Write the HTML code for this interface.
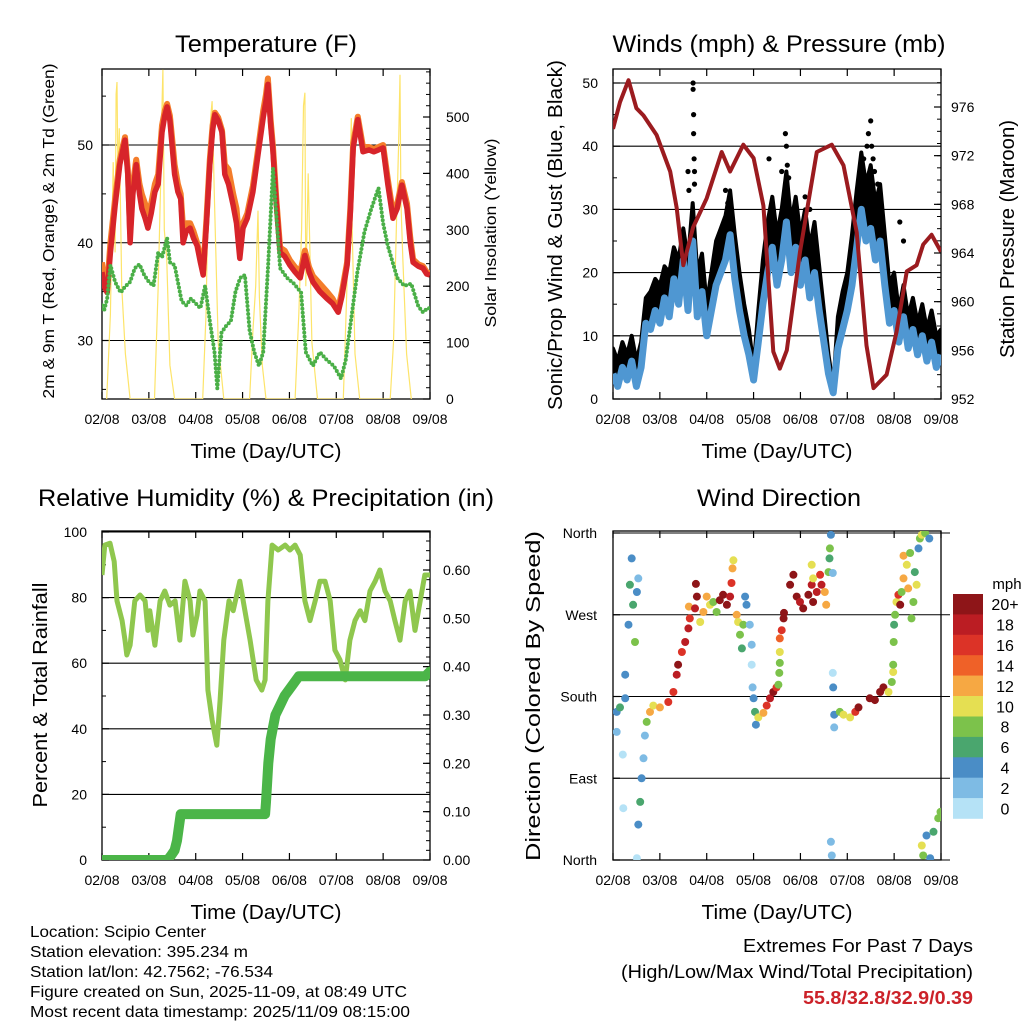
<!DOCTYPE html>
<html><head><meta charset="utf-8">
<style>
html,body{margin:0;padding:0;background:#fff;}
svg{display:block;font-family:"Liberation Sans",sans-serif;}
</style></head>
<body>
<svg id="chart" width="1024" height="1024" viewBox="0 0 1024 1024" xmlns="http://www.w3.org/2000/svg">
<defs>
<clipPath id="c1"><rect x="102" y="69" width="328" height="330"/></clipPath>
<clipPath id="c2"><rect x="613" y="69" width="328" height="330"/></clipPath>
<clipPath id="c3"><rect x="102" y="531" width="328" height="329"/></clipPath>
<clipPath id="c4"><rect x="613" y="531" width="328" height="329"/></clipPath>
</defs>
<text x="266" y="52" font-size="24" text-anchor="middle" textLength="182" lengthAdjust="spacingAndGlyphs">Temperature (F)</text>
<text x="779" y="52" font-size="24" text-anchor="middle" textLength="333" lengthAdjust="spacingAndGlyphs">Winds (mph) &amp; Pressure (mb)</text>
<text x="266" y="506" font-size="24" text-anchor="middle" textLength="456" lengthAdjust="spacingAndGlyphs">Relative Humidity (%) &amp; Precipitation (in)</text>
<text x="779" y="506" font-size="24" text-anchor="middle" textLength="164" lengthAdjust="spacingAndGlyphs">Wind Direction</text>

<text x="266" y="458" font-size="20" text-anchor="middle" textLength="151" lengthAdjust="spacingAndGlyphs">Time (Day/UTC)</text>
<text x="777" y="458" font-size="20" text-anchor="middle" textLength="151" lengthAdjust="spacingAndGlyphs">Time (Day/UTC)</text>
<text x="266" y="919" font-size="20" text-anchor="middle" textLength="151" lengthAdjust="spacingAndGlyphs">Time (Day/UTC)</text>
<text x="777" y="919" font-size="20" text-anchor="middle" textLength="151" lengthAdjust="spacingAndGlyphs">Time (Day/UTC)</text>

<text transform="translate(54,231) rotate(-90)" font-size="16" text-anchor="middle" textLength="335" lengthAdjust="spacingAndGlyphs">2m &amp; 9m T (Red, Orange) &amp; 2m Td (Green)</text>
<text transform="translate(496,233) rotate(-90)" font-size="16" text-anchor="middle" textLength="189" lengthAdjust="spacingAndGlyphs">Solar Insolation (Yellow)</text>
<text transform="translate(562,235) rotate(-90)" font-size="20" text-anchor="middle" textLength="350" lengthAdjust="spacingAndGlyphs">Sonic/Prop Wind &amp; Gust (Blue, Black)</text>
<text transform="translate(1014,239) rotate(-90)" font-size="20" text-anchor="middle" textLength="238" lengthAdjust="spacingAndGlyphs">Station Pressure (Maroon)</text>
<text transform="translate(47,695) rotate(-90)" font-size="20" text-anchor="middle" textLength="225" lengthAdjust="spacingAndGlyphs">Percent &amp; Total Rainfall</text>
<text transform="translate(540,696) rotate(-90)" font-size="20" text-anchor="middle" textLength="330" lengthAdjust="spacingAndGlyphs">Direction (Colored By Speed)</text>

<g font-size="16">
<text x="30" y="937" textLength="176" lengthAdjust="spacingAndGlyphs">Location: Scipio Center</text>
<text x="30" y="957" textLength="218" lengthAdjust="spacingAndGlyphs">Station elevation: 395.234 m</text>
<text x="30" y="977" textLength="243" lengthAdjust="spacingAndGlyphs">Station lat/lon: 42.7562; -76.534</text>
<text x="30" y="997" textLength="377" lengthAdjust="spacingAndGlyphs">Figure created on Sun, 2025-11-09, at 08:49 UTC</text>
<text x="30" y="1017" textLength="380" lengthAdjust="spacingAndGlyphs">Most recent data timestamp: 2025/11/09 08:15:00</text>
</g>
<g font-size="18" text-anchor="end">
<text x="973" y="952" textLength="230" lengthAdjust="spacingAndGlyphs">Extremes For Past 7 Days</text>
<text x="973" y="978" textLength="352" lengthAdjust="spacingAndGlyphs">(High/Low/Max Wind/Total Precipitation)</text>
<text x="973" y="1004" font-weight="bold" fill="#cc2229" textLength="170" lengthAdjust="spacingAndGlyphs">55.8/32.8/32.9/0.39</text>
</g>
</svg>
<script>
// ---------- data ----------
const dayLabels=['02/08','03/08','04/08','05/08','06/08','07/08','08/08','09/08'];
const tempTime=[0,0.05,0.11,0.18,0.28,0.38,0.49,0.55,0.6,0.66,0.73,0.8,0.85,0.92,0.98,1.05,1.13,1.2,1.28,1.34,1.39,1.45,1.49,1.55,1.62,1.68,1.73,1.8,1.88,1.95,2.03,2.1,2.16,2.23,2.3,2.36,2.41,2.48,2.56,2.62,2.7,2.8,2.87,2.94,3.01,3.1,3.22,3.33,3.44,3.5,3.54,3.6,3.65,3.72,3.8,3.9,4.01,4.12,4.23,4.33,4.42,4.5,4.65,4.8,4.92,5.04,5.12,5.23,5.3,5.36,5.46,5.57,5.7,5.8,5.9,6.0,6.1,6.21,6.3,6.4,6.51,6.58,6.64,6.75,6.85,6.93,7.0];
const temp2m=[37,35.5,34.9,39,43.8,48,50.5,47,40,45,48,45,43.5,42.5,41.5,43,45.2,46,51.3,53,53.9,52.5,50.3,47,45.2,44.5,40,41.2,41.5,40.5,39.7,38,36.7,42,48,51.5,53.1,52.5,51.3,47,46,43.8,42,38.4,41.5,42.5,45.2,49,52.8,54.5,56.2,52,49.3,44,39,38.6,37.7,37,36.4,38.7,37,36,35,34.3,33.8,32.9,34.5,37.7,43,49.7,52.6,49.3,49.5,49.3,49.5,49.7,46,42.5,43.5,45.9,43.5,40,38,37.6,37.4,36.8,36.7];
const temp9m=[38,36,35.5,40,44.5,48.5,50.8,47.5,41,46,48.5,46,45,44,43,44,46,47,52,53.5,54.2,53,51,48,46,45,41.5,42,42,41.2,40,38.5,37.2,42.5,48.5,52,53.3,52.8,51.5,48,47.5,45,43.5,39.5,42,43,45.8,49.5,53.5,55.2,56.8,52.5,49.8,44.5,39.5,39.2,38.2,37.5,37,39.2,37.5,36.6,35.8,35,34.3,33.2,35,38,43.5,50.2,52.9,49.8,49.8,49.6,49.8,50,46.5,43,44,46.2,44,40.5,38.3,37.8,37.6,37,36.9];
const dewTime=[0,0.04,0.11,0.18,0.28,0.4,0.49,0.6,0.7,0.8,0.9,1.0,1.1,1.2,1.28,1.39,1.45,1.55,1.7,1.8,1.9,2.0,2.1,2.2,2.3,2.4,2.46,2.55,2.65,2.75,2.85,2.95,3.05,3.15,3.25,3.35,3.44,3.55,3.65,3.8,3.95,4.1,4.25,4.35,4.5,4.65,4.8,4.95,5.1,5.2,5.3,5.45,5.6,5.75,5.9,6.0,6.1,6.3,6.45,6.6,6.75,6.85,6.95,7.0];
const dewPoint=[33.6,33,34.3,37.7,36,34.9,35.5,36,37.4,37.8,36.7,36,35.6,39,38.5,40.5,38,37.7,34,33.6,34.3,33.8,33.3,35.6,32,28.8,25.1,30.8,31.5,32,35,36.4,36.7,31,28.8,27.4,28.8,38,47.6,37.4,36.4,35.8,34.9,28.8,27.4,28.8,28,27.4,26.1,28,31.5,37,41.1,43.5,45.6,42,39.7,36.4,35.6,35.8,33.5,32.9,33.3,33.3];
const solarTime=[0.1,0.18,0.24,0.28,0.3,0.32,0.34,0.37,0.42,0.5,0.6,1.12,1.2,1.25,1.28,1.3,1.33,1.38,1.45,1.55,2.15,2.22,2.28,2.32,2.35,2.4,2.48,2.6,3.15,3.22,3.28,3.33,3.36,3.42,3.5,4.12,4.2,4.26,4.3,4.33,4.35,4.4,4.48,4.6,5.15,5.22,5.28,5.32,5.34,5.4,5.5,6.15,6.22,6.28,6.33,6.36,6.38,6.42,6.5,6.6];
const solarVal=[0,150,420,260,540,562,400,480,200,80,0,0,200,380,520,584,300,250,60,0,0,150,420,500,528,350,100,0,0,120,200,334,180,60,0,0,150,300,520,543,200,400,100,0,0,180,350,498,300,80,0,0,100,300,450,575,350,250,80,0];
const windVal=[4,2,5,3,6,2,5,12,11,14,12,16,13,19,15,22,14,25,13,17,10,14,18,20,22,26,19,14,10,7,3,9,15,20,24,18,22,28,20,24,18,22,16,20,14,9,4,1,8,11,14,18,24,30,25,27,22,25,18,12,14,9,13,8,11,7,10,6,9,5,7];
const gustVal=[8,6,9,7,10,6,9,16,17,19,18,21,20,24,22,27,22,31,20,23,15,20,25,27,29,33,26,20,15,11,5,14,22,28,32,26,30,36,28,32,26,30,24,28,21,14,7,2,13,17,20,26,33,39,34,37,31,34,26,18,20,14,18,13,16,12,15,11,14,10,11];
const gustSpikeTime=[1.71,1.71,1.72,1.72,1.73,1.74,1.74,1.6,1.62,2.4,2.45,3.33,3.68,3.7,3.72,3.75,3.6,4.1,4.2,5.42,5.45,5.5,5.52,5.55,5.58,5.35,5.65,6.12,6.2];
const gustSpikeVal=[50,49,45,42,38,36,34,36,33,33,31,38,42,40,37,35,36,32,30,40,42,44,40,38,36,38,34,28,25];
const presTime=[0,0.15,0.33,0.5,0.65,0.93,1.22,1.36,1.5,1.71,2.0,2.32,2.5,2.78,3.0,3.21,3.42,3.56,3.71,3.99,4.35,4.67,4.92,5.2,5.41,5.56,5.84,6.05,6.27,6.48,6.62,6.8,7.0];
const presVal=[974.2,976.4,978.2,975.9,975.3,973.7,970.7,967.7,963.0,966.1,968.5,972.3,970.7,972.9,971.8,967.9,955.9,954.5,956,964.1,972.3,972.9,971.2,965.7,956.4,952.9,954,957.5,962.5,963,964.7,965.5,964.1];
const rhTime=[0,0.06,0.17,0.26,0.32,0.43,0.49,0.53,0.6,0.7,0.81,0.92,0.98,1.02,1.13,1.24,1.34,1.45,1.56,1.66,1.77,1.88,1.94,2.03,2.09,2.2,2.26,2.35,2.45,2.52,2.6,2.71,2.8,2.94,3.05,3.16,3.29,3.41,3.48,3.54,3.63,3.76,3.91,4.01,4.12,4.23,4.33,4.44,4.55,4.65,4.76,4.87,4.97,5.08,5.19,5.29,5.4,5.51,5.61,5.72,5.83,5.93,6.04,6.15,6.25,6.36,6.47,6.57,6.68,6.79,6.89,7];
const rhVal=[86.9,96,96.6,91,79,73,67,62.5,65.5,79,80.8,79,70,76,65.5,79,82,77.7,79,67,85,79,68.6,74.7,82,79,51.8,42.7,35,48.8,67,79,76,85,76,67,54.9,51.8,54.9,79,96,94.5,96,94.5,96,93,79,73,79,85,85,79,64,61,54.9,67,73,76,73,82,85,88.4,82,79,73,67,79,82,70,79,86.9,86.9];
const precTime=[0,1.4,1.48,1.55,1.6,1.68,3.48,3.5,3.55,3.6,3.7,3.8,3.9,4.05,4.2,6.9,7.0];
const precVal=[0,0,0.01,0.02,0.04,0.095,0.095,0.12,0.2,0.25,0.3,0.32,0.34,0.36,0.38,0.38,0.39];
const wdTime=[0.08,0.08,0.15,0.26,0.26,0.21,0.22,0.33,0.36,0.40,0.43,0.47,0.51,0.54,0.51,0.54,0.58,0.61,0.65,0.68,0.72,0.79,0.86,1.0,1.18,1.29,1.36,1.39,1.47,1.54,1.61,1.64,1.62,1.75,1.79,1.77,1.86,1.93,2.0,2.07,2.14,2.21,2.28,2.35,2.43,2.5,2.53,2.55,2.57,2.64,2.67,2.71,2.75,2.78,2.85,2.82,2.92,2.96,2.96,2.98,3.0,3.03,3.05,3.1,3.21,3.28,3.35,3.42,3.49,3.53,3.55,3.56,3.56,3.56,3.6,3.64,3.65,3.78,3.85,3.92,3.99,4.06,4.17,4.24,4.27,4.35,4.42,4.45,4.52,4.55,4.24,4.27,4.6,4.62,4.63,4.65,4.69,4.69,4.7,4.72,4.72,4.65,4.67,4.84,4.92,5.06,5.17,5.24,5.48,5.59,5.7,5.77,5.88,5.95,5.98,5.98,5.99,6.0,6.02,6.05,6.09,6.13,6.16,6.2,6.2,6.27,6.3,6.34,6.37,6.41,6.44,6.48,6.52,6.55,6.59,6.66,6.75,6.59,6.62,6.69,6.77,6.84,6.94,6.99];
const wdDir=[163,141,168,204,178,116,57,259,303,332,281,240,295,310,2,39,64,90,112,137,152,163,170,168,174,185,204,215,229,240,255,266,279,277,290,304,262,273,290,281,284,273,286,292,281,290,305,321,330,270,262,248,233,259,281,290,259,237,215,190,178,163,149,157,162,170,178,185,190,193,206,217,229,244,253,266,272,303,314,290,284,277,292,303,284,295,314,303,295,281,325,310,317,332,343,358,316,206,190,160,146,20,5,163,160,157,163,168,178,176,185,190,185,196,207,215,240,259,270,284,292,281,295,310,335,325,299,338,266,284,317,303,343,354,358,360,354,16,5,27,2,31,46,53];
const wdSpeed=[4,3,6,4,4,0,0,4,6,4,6,8,4,2,0,4,6,4,2,2,8,12,10,12,16,16,18,21,16,18,18,16,12,18,21,21,10,12,12,10,8,8,21,21,21,18,16,12,10,12,10,8,6,8,4,4,2,2,0,2,4,6,4,10,12,16,18,21,16,8,8,8,10,14,16,21,21,21,21,21,18,21,21,18,21,18,16,18,12,12,10,10,8,6,8,4,2,0,4,4,2,2,2,8,10,10,16,21,21,21,21,21,10,8,10,8,8,6,8,10,16,21,8,12,12,10,12,8,8,8,6,10,4,8,10,8,4,10,8,4,4,6,8,8];
const cbLabels=['20+','18','16','14','12','10','8','6','4','2','0'];
const cbColors=['#8e1518','#bb1d23','#dc3327','#ef6128','#f6a843','#e5df52','#7cc24b','#4aa66e','#4a8dc6','#7ebbe4','#b5e2f6'];

// ---------- helpers ----------
const NS='http://www.w3.org/2000/svg';
const svg=document.getElementById('chart');
function mk(tag,attrs,parent){const e=document.createElementNS(NS,tag);for(const k in attrs)e.setAttribute(k,attrs[k]);(parent||svg).appendChild(e);return e;}
function lin(d0,d1,r0,r1){return v=>r0+(v-d0)*(r1-r0)/(d1-d0);}
function txt(x,y,s,size,anchor,parent){const t=mk('text',{x:x,y:y,'font-size':size,'text-anchor':anchor},parent);t.textContent=s;return t;}
function ptsOf(xs,ys,fx,fy){const n=Math.min(xs.length,ys.length);let a=[];for(let i=0;i<n;i++)a.push(fx(xs[i]).toFixed(1)+','+fy(ys[i]).toFixed(1));return a.join(' ');}

function frame(P,prefix){
  const g=mk('g',{});
  
  
  const fx=lin(0,7,P.x0,P.x1);
  for(let i=0;i<dayLabels.length;i++){
    const x=fx(i);
    mk('line',{x1:x,y1:P.y1,x2:x,y2:P.y1-7,stroke:'#000','stroke-width':1.2},g);
    mk('line',{x1:x,y1:P.y0,x2:x,y2:P.y0+7,stroke:'#000','stroke-width':1.2},g);
    const t=txt(x,P.y1+25,dayLabels[i],14,'middle',g);
    
    
  }
  return g;
}
function yAxis(g,P,side,fy,majors,labels,minors,grid,prefix,lx){
  const xe=side==='left'?P.x0:P.x1, dir=side==='left'?1:-1;
  majors.forEach((v,i)=>{
    const y=fy(v);
    if(grid) mk('line',{x1:P.x0,y1:y,x2:P.x1+(grid>1?grid:0),y2:y,stroke:'#000','stroke-width':1.1},g);
    mk('line',{x1:xe,y1:y,x2:xe+dir*7,y2:y,stroke:'#000','stroke-width':1.2},g);
    const t=txt(lx,y+5,labels[i],14,side==='left'?'end':'start',g);
    
    
  });
  minors.forEach(v=>{const y=fy(v);mk('line',{x1:xe,y1:y,x2:xe+dir*4,y2:y,stroke:'#000','stroke-width':1},g);});
}
function box(g,P){mk('rect',{x:P.x0,y:P.y0,width:P.x1-P.x0,height:P.y1-P.y0,fill:'none',stroke:'#000','stroke-width':1.3},g);}
function range(a,b,s){let r=[];for(let v=a;v<=b+1e-9;v+=s)r.push(+v.toFixed(4));return r;}

// ---------- Panel 1: temperature ----------
{
const P={x0:102,x1:430,y0:69,y1:399};
const fx=lin(0,7,P.x0,P.x1), fy=lin(30,50,340.5,145), fs=lin(0,500,399,117);
const g=frame(P,'temperature');
yAxis(g,P,'left',fy,[30,40,50],['30','40','50'],[25,35,45,55],true,'temperature',93);
yAxis(g,P,'right',fs,[0,100,200,300,400,500],['0','100','200','300','400','500'],range(20,580,20),false,'solar',446);
const d=mk('g',{'clip-path':'url(#c1)'});


let e=mk('polyline',{points:ptsOf(solarTime,solarVal,fx,fs),fill:'none',stroke:'#fde46a','stroke-width':1.2},d);


e=mk('polyline',{points:ptsOf(tempTime,temp9m,fx,fy),fill:'none',stroke:'#f47d2b','stroke-width':6,'stroke-linejoin':'round'},d);


e=mk('polyline',{points:ptsOf(tempTime,temp2m,fx,fy),fill:'none',stroke:'#d7242a','stroke-width':5.5,'stroke-linejoin':'round'},d);


e=mk('polyline',{points:ptsOf(dewTime,dewPoint,fx,fy),fill:'none',stroke:'#4aaf47','stroke-width':4,'stroke-linecap':'round','stroke-dasharray':'0 4'},d);


box(g,P);
}
// ---------- Panel 2: winds ----------
{
const P={x0:613,x1:941,y0:69,y1:399};
const fx=lin(0,7,P.x0,P.x1), fy=lin(0,50,399,83), fp=lin(952,976,399,107);
const g=frame(P,'winds');
yAxis(g,P,'left',fy,[0,10,20,30,40,50],['0','10','20','30','40','50'],[5,15,25,35,45],true,'wind',598);
yAxis(g,P,'right',fp,[952,956,960,964,968,972,976],['952','956','960','964','968','972','976'],range(953,978,1),false,'pressure',951);
const d=mk('g',{'clip-path':'url(#c2)'});


const wt=windVal.map((v,i)=>i/10);
const upper=ptsOf(wt,gustVal,fx,fy);
const lower=ptsOf(wt.slice().reverse(),windVal.slice().reverse(),fx,fy);
let e=mk('polygon',{points:upper+' '+lower,fill:'#000',stroke:'#000','stroke-width':4,'stroke-linejoin':'round'},d);


for(let i=0;i<Math.min(gustSpikeTime.length,gustSpikeVal.length);i++){
  const c=mk('circle',{cx:fx(gustSpikeTime[i]).toFixed(1),cy:fy(gustSpikeVal[i]).toFixed(1),r:2.6,fill:'#000'},d);
  
  
}
e=mk('polyline',{points:ptsOf(wt,windVal,fx,fy),fill:'none',stroke:'#4f97d2','stroke-width':7,'stroke-linejoin':'round'},d);


e=mk('polyline',{points:ptsOf(presTime,presVal,fx,fp),fill:'none',stroke:'#9b1b1f','stroke-width':4,'stroke-linejoin':'round'},d);


box(g,P);
}
// ---------- Panel 3: RH & precip ----------
{
const P={x0:102,x1:430,y0:531,y1:860};
const fx=lin(0,7,P.x0,P.x1), fy=lin(0,100,860,532), fr=lin(0,0.6,860,570);
const g=frame(P,'humidity');
yAxis(g,P,'left',fy,[0,20,40,60,80,100],['0','20','40','60','80','100'],[10,30,50,70,90],true,'humidity',87);
yAxis(g,P,'right',fr,[0,0.1,0.2,0.3,0.4,0.5,0.6],['0.00','0.10','0.20','0.30','0.40','0.50','0.60'],range(0.02,0.66,0.02),false,'rainfall',443);
const d=mk('g',{'clip-path':'url(#c3)'});


let e=mk('polyline',{points:ptsOf(rhTime,rhVal,fx,fy),fill:'none',stroke:'#8fc74e','stroke-width':5,'stroke-linejoin':'round'},d);


e=mk('polyline',{points:ptsOf(precTime,precVal,fx,fr),fill:'none',stroke:'#4bb548','stroke-width':10,'stroke-linejoin':'round','stroke-linecap':'round'},d);


box(g,P);
}
// ---------- Panel 4: wind direction ----------
{
const P={x0:613,x1:941,y0:531,y1:860};
const fx=lin(0,7,P.x0,P.x1), fy=lin(0,360,860,533);
const g=frame(P,'direction');
yAxis(g,P,'left',fy,[0,90,180,270,360],['North','East','South','West','North'],[],9,'direction',597);
const d=mk('g',{'clip-path':'url(#c4)'});


function colorFor(s){const idx=Math.min(10,Math.floor(s/2));return cbColors[10-idx];}
const n=Math.min(wdTime.length,wdDir.length,wdSpeed.length);
for(let i=0;i<n;i++){
  const c=mk('circle',{cx:fx(wdTime[i]).toFixed(1),cy:fy(wdDir[i]).toFixed(1),r:4,fill:colorFor(wdSpeed[i])},d);
  
  
}
box(g,P);
const cb=mk('g',{});


const t0=txt(1007,589,'mph',15,'middle',cb);


const h=224.5/cbColors.length;
cbColors.forEach((col,i)=>{
  const r=mk('rect',{x:953,y:(594+i*h).toFixed(1),width:30,height:(h+0.3).toFixed(1),fill:col},cb);
  
  
  const t=txt(1005,594+i*h+h/2+6,cbLabels[i],16,'middle',cb);
  
  
});
}
</script>
</body></html>
